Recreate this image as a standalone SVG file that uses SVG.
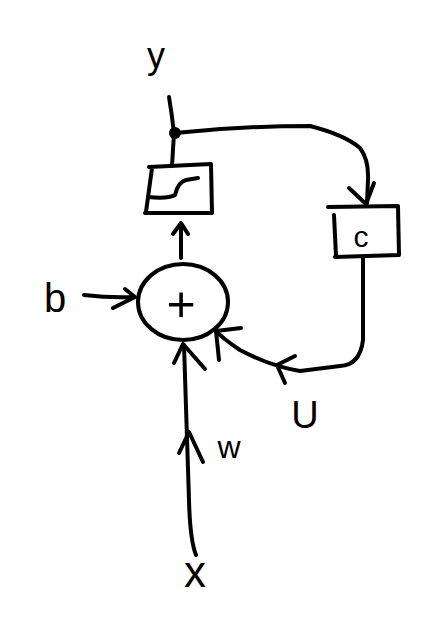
<svg xmlns="http://www.w3.org/2000/svg" width="423" height="617" viewBox="0 0 423 617">
<style>
.s{fill:none;stroke:#000;stroke-width:4;stroke-linecap:round;stroke-linejoin:round}
.t{font-family:"Liberation Sans",Arial,sans-serif;fill:#000;text-anchor:middle}
</style>
<rect width="423" height="617" fill="#fff"/>
<g id="y">
<text class="t" x="156" y="68" font-size="36">y</text>
</g>
<g id="act">
<path class="s" d="M152,168 Q149,190 146,212 M149,167 L211,164 L212,213 L145,213"/>
<path class="s" d="M148,197 Q168,199 175,195 Q178,182 186,180 L198,178"/>
</g>
<g id="sum">
<ellipse class="s" cx="183" cy="302" rx="45" ry="38"/>
<text class="t" x="181" y="321" font-size="50">+</text>
</g>
<g id="c">
<path class="s" d="M328,207 L398,206 L399,255 L335,257 M334,215 L336,256"/>
<text class="t" x="361" y="247" font-size="30">c</text>
</g>
<g id="b"><text class="t" x="55" y="312" font-size="40">b</text></g>
<g id="U"><text class="t" x="305" y="428" font-size="38">U</text></g>
<g id="w"><text class="t" x="229" y="458" font-size="32">w</text></g>
<g id="x"><text class="t" x="195" y="587" font-size="44">x</text></g>
<g id="connectors">
<path class="s" d="M169,97 Q172,115 174,133 L172,166"/>
<circle cx="175" cy="133" r="6" fill="#000"/>
<path class="s" d="M175,133 Q240,126 310,126 Q345,135 360,148 Q369,160 368,180 L367,203"/>
<path class="s" d="M349,188 L366,204 L374,183"/>
<path class="s" d="M181,258 L181,224 M173,234 L181,223 L188,234"/>
<path class="s" d="M84,295 Q110,298 134,297 M125,289 L135,297 L113,308"/>
<path class="s" d="M363,258 L363,340 Q360,365 340,366 L300,371 Q270,366 240,350 Q222,338 215,330"/>
<path class="s" d="M295,356 L277,365 L285,383"/>
<path class="s" d="M241,328 L216,331 L219,360"/>
<path class="s" d="M196,555 Q190,540 189,500 L184,345"/>
<path class="s" d="M174,363 L183,344 L205,369"/>
<path class="s" d="M179,453 L189,432 L203,462"/>
</g>
</svg>
